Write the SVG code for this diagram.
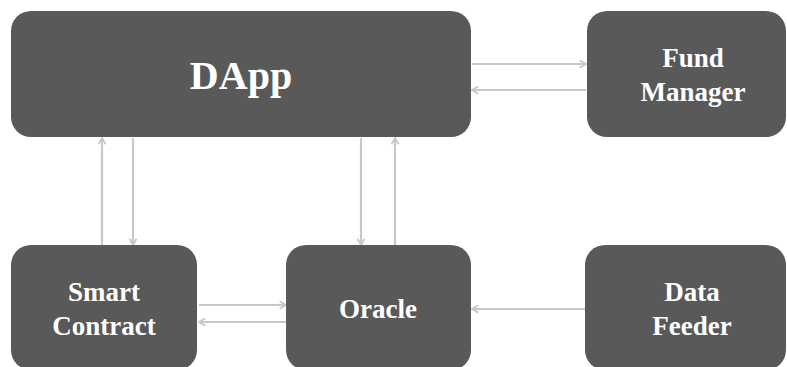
<svg xmlns="http://www.w3.org/2000/svg" width="787" height="367" viewBox="0 0 787 367">
  <style>
    .box { fill: #595959; }
    .lbl { fill: #ffffff; font-family: "Liberation Serif", "Times New Roman", serif; font-weight: bold; text-anchor: middle; }
    .conn { stroke: #c8c8c8; stroke-width: 2.2; fill: none; marker-end: url(#head); }
  </style>
  <defs>
    <marker id="head" viewBox="0 0 10 10" refX="9" refY="5" markerWidth="9" markerHeight="9" markerUnits="userSpaceOnUse" orient="auto">
      <path d="M2,1 L9,5 L2,9" fill="none" stroke="#c8c8c8" stroke-width="2"/>
    </marker>
  </defs>

  <g id="connectors">
    <!-- DApp <-> Fund Manager -->
    <line class="conn" x1="472" y1="64" x2="586" y2="64"/>
    <line class="conn" x1="586" y1="90" x2="472" y2="90"/>
    <!-- DApp <-> Smart Contract -->
    <line class="conn" x1="102" y1="245" x2="102" y2="138"/>
    <line class="conn" x1="133" y1="138" x2="133" y2="245"/>
    <!-- DApp <-> Oracle -->
    <line class="conn" x1="361" y1="138" x2="361" y2="245"/>
    <line class="conn" x1="395" y1="245" x2="395" y2="138"/>
    <!-- Smart Contract <-> Oracle -->
    <line class="conn" x1="199" y1="305" x2="286" y2="305"/>
    <line class="conn" x1="286" y1="322" x2="199" y2="322"/>
    <!-- Data Feeder -> Oracle -->
    <line class="conn" x1="585" y1="309" x2="472" y2="309"/>
  </g>

  <g id="dapp">
    <rect class="box" x="11" y="11" width="460" height="126" rx="20"/>
    <text class="lbl" x="241" y="89" font-size="40">DApp</text>
  </g>

  <g id="fund-manager">
    <rect class="box" x="587" y="11" width="199" height="126" rx="20"/>
    <text class="lbl" x="693" y="67" font-size="27">Fund</text>
    <text class="lbl" x="693" y="101" font-size="27">Manager</text>
  </g>

  <g id="smart-contract">
    <rect class="box" x="11" y="245" width="186" height="125" rx="20"/>
    <text class="lbl" x="104" y="301" font-size="27">Smart</text>
    <text class="lbl" x="104" y="335" font-size="27">Contract</text>
  </g>

  <g id="oracle">
    <rect class="box" x="286" y="245" width="185" height="125" rx="20"/>
    <text class="lbl" x="378" y="318" font-size="27">Oracle</text>
  </g>

  <g id="data-feeder">
    <rect class="box" x="585" y="245" width="201" height="125" rx="20"/>
    <text class="lbl" x="692" y="301" font-size="27">Data</text>
    <text class="lbl" x="692" y="335" font-size="27">Feeder</text>
  </g>
</svg>
